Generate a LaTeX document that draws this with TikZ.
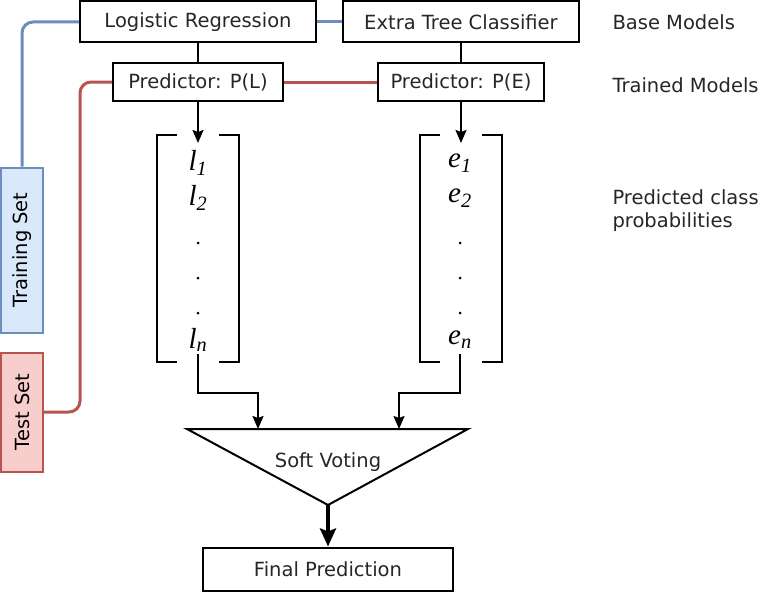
\documentclass[tikz,border=0pt]{standalone}
\usepackage{fontspec}
\setmainfont{DejaVu Sans}
\newfontfamily\probfont{Liberation Serif}
\usetikzlibrary{arrows.meta}

\definecolor{trainfill}{HTML}{DAE8FC}
\definecolor{trainline}{HTML}{6C8EBF}
\definecolor{testfill}{HTML}{F8CECC}
\definecolor{testline}{HTML}{B85450}

\newcommand{\prb}[2]{\textit{#1}\textsubscript{\itshape #2}}

\begin{document}
\begin{tikzpicture}[x=1pt, y=-1pt,
		font=\fontsize{19.5}{23}\selectfont,
		box/.style={draw, line width=2pt, text=black!85, inner sep=0pt},
		setbox/.style={draw, line width=2pt, rotate=90, inner sep=0pt, minimum height=42},
		prob/.style={inner sep=0pt, font=\probfont\fontsize{29}{32}\selectfont},
		bracket/.style={line width=2pt},
		flow/.style={line width=2pt, -{Stealth[length=13pt, width=11pt, inset=2pt]}},
		blueline/.style={trainline, line width=3pt, rounded corners=11pt},
		redline/.style={testline, line width=3pt, rounded corners=11pt},
		side/.style={anchor=west, text=black!85, align=left}]
	\useasboundingbox (0, 0) rectangle (762, 594);

	% base models and trained models
	\node[box, minimum width=236, minimum height=41] (lr) at (198, 22) {Logistic Regression};
	\node[box, minimum width=236, minimum height=41] (etc) at (461, 22) {Extra Tree Classifier};
	\node[box, minimum width=170, minimum height=38] (pl) at (198, 82) {Predictor: P(L)};
	\node[box, minimum width=166, minimum height=38] (pe) at (461, 82) {Predictor: P(E)};

	% data sets
	\node[setbox, fill=trainfill, draw=trainline, minimum width=165] (train) at (22, 250) {Training Set};
	\node[setbox, fill=testfill, draw=testline, minimum width=119] (test) at (22, 412) {Test Set};

	\draw[blueline] (lr.west) -| (train.east);
	\draw[blueline] (lr.east) -- (etc.west);
	\draw[redline] (test.south) -| (80, 250) |- (pl.west);
	\draw[redline] (pl.east) -- (pe.west);

	\draw[line width=2pt] (lr.south) -- (pl.north);
	\draw[line width=2pt] (etc.south) -- (pe.north);

	% class probabilities
	\draw[bracket] (177, 135) -- (157, 135) -- (157, 362) -- (177, 362);
	\draw[bracket] (219, 135) -- (239, 135) -- (239, 362) -- (219, 362);
	\draw[bracket] (440, 135) -- (420, 135) -- (420, 362) -- (440, 362);
	\draw[bracket] (482, 135) -- (502, 135) -- (502, 362) -- (482, 362);

	\node[prob] (l1) at (198, 163) {\prb{l}{1}};
	\node[prob] (l2) at (198, 198) {\prb{l}{2}};
	\node[prob] (ln) at (198, 340) {\prb{l}{n}};
	\node[prob] (e1) at (460, 163) {\prb{e}{1}};
	\node[prob] (e2) at (460, 198) {\prb{e}{2}};
	\node[prob] (en) at (460, 340) {\prb{e}{n}};
	\foreach \y in {243, 278, 313} {
		\fill (198, \y) circle (1.5);
		\fill (460, \y) circle (1.5);
	}

	\coordinate (ltop) at (198, 143);
	\coordinate (etop) at (461, 143);
	\draw[flow] (pl.south) -- (ltop);
	\draw[flow] (pe.south) -- (etop);

	% soft voting
	\coordinate (vl) at (187, 429);
	\coordinate (vr) at (468, 429);
	\coordinate (vb) at (328, 505);
	\draw[line width=2pt, line join=miter] (vl) -- (vr) -- (vb) -- cycle;
	\node[text=black!85] (vote) at (328, 462) {Soft Voting};

	\coordinate (lin) at (258, 429);
	\coordinate (ein) at (399, 429);
	\draw[flow] (198, 354) |- (258, 393) -- (lin);
	\draw[flow] (460, 354) |- (399, 393) -- (ein);

	\node[box, minimum width=250, minimum height=43] (final) at (328, 569) {Final Prediction};
	\draw[line width=4pt, -{Stealth[length=18pt, width=16pt, inset=3pt]}] (vb) -- (final.north);

	% row labels
	\node[side] (base) at (609, 22) {Base Models};
	\node[side] (trained) at (609, 85) {Trained Models};
	\node[side] (pred) at (609, 211) {Predicted class\\probabilities};
\end{tikzpicture}
\end{document}
